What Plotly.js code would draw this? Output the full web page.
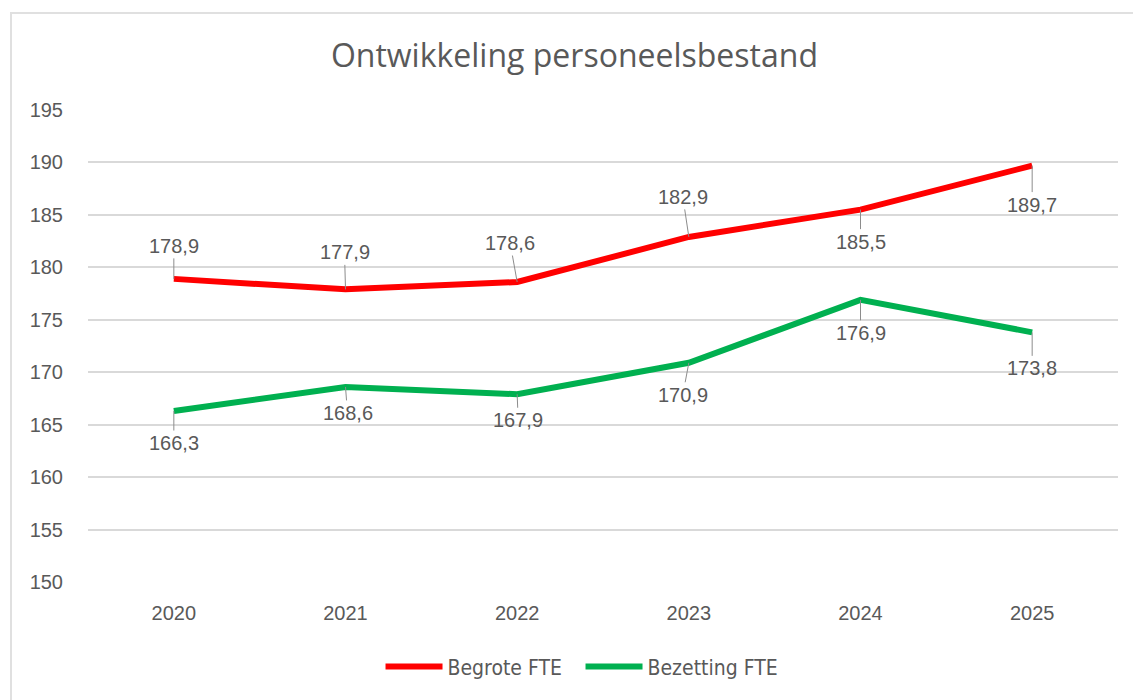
<!DOCTYPE html>
<html>
<head>
<meta charset="utf-8">
<script src="https://cdn.plot.ly/plotly-3.0.1.min.js"></script>
<style>
  html, body { margin: 0; padding: 0; background: #ffffff; }
  #wrap { position: relative; width: 1133px; height: 700px; overflow: hidden; }
  #frame { position: absolute; left: 10px; top: 12px; width: 1140px; height: 700px;
           border-left: 2px solid #e0e0e0; border-top: 2px solid #e0e0e0; box-sizing: border-box; pointer-events: none; }
  #chart { position: absolute; left: 0; top: 0; width: 1133px; height: 700px; }
</style>
</head>
<body>
<div id="wrap">
  <div id="chart"></div>
  <div id="frame"></div>
</div>
<script>
// ---- data ----
const years = ['2020', '2021', '2022', '2023', '2024', '2025'];
const begroteFTE = [178.9, 177.9, 178.6, 182.9, 185.5, 189.7];
const bezettingFTE = [166.3, 168.6, 167.9, 170.9, 176.9, 173.8];
const begroteLabels = ['178,9', '177,9', '178,6', '182,9', '185,5', '189,7'];
const bezettingLabels = ['166,3', '168,6', '167,9', '170,9', '176,9', '173,8'];
const yTicks = [150, 155, 160, 165, 170, 175, 180, 185, 190, 195];

// ---- label placement (pixel offsets of the label from its point) ----
const begroteOffsets = [[0, -33], [-1, -37], [-7, -39], [-6, -40], [0, 32], [0, 39]];
const bezettingOffsets = [[0, 32], [2, 26], [1, 26], [-6, 32], [0, 33], [0, 36]];

const txtColor = '#595959';
function lblFont() { return { family: 'Liberation Sans, Arial, sans-serif', size: 20, color: txtColor }; }

function makeAnnotations(vals, labels, offs) {
  const out = [];
  for (let i = 0; i < vals.length; i++) {
    out.push({
      x: i, y: vals[i], xref: 'x', yref: 'y',
      text: labels[i], font: lblFont(),
      showarrow: true, arrowhead: 0, arrowwidth: 1, arrowcolor: '#8c8c8c',
      ax: offs[i][0], ay: offs[i][1]
    });
  }
  return out;
}

const traces = [
  { x: years, y: begroteFTE, name: 'Begrote FTE', type: 'scatter', mode: 'lines',
    line: { color: '#FF0000', width: 6 } },
  { x: years, y: bezettingFTE, name: 'Bezetting FTE', type: 'scatter', mode: 'lines',
    line: { color: '#00B050', width: 6 } }
];

const annos = makeAnnotations(begroteFTE, begroteLabels, begroteOffsets)
    .concat(makeAnnotations(bezettingFTE, bezettingLabels, bezettingOffsets));

const layout = {
  width: 1133, height: 700,
  paper_bgcolor: 'rgba(0,0,0,0)', plot_bgcolor: 'rgba(0,0,0,0)',
  margin: { l: 88, r: 15, t: 110, b: 118 },
  title: { text: 'Ontwikkeling personeelsbestand',
           font: { family: 'Open Sans, sans-serif', size: 32, color: txtColor },
           x: 0.507, xanchor: 'center', y: 0.921, yanchor: 'middle' },
  xaxis: { type: 'category', range: [-0.5, 5.5], showgrid: false, zeroline: false, showline: false,
           ticks: '', tickfont: lblFont(), ticklabelstandoff: 17, fixedrange: true },
  yaxis: { range: [150, 195], tickvals: yTicks, showgrid: true, gridcolor: '#d9d9d9', gridwidth: 1.5,
           zeroline: false, showline: false, ticks: '', tickfont: lblFont(), ticklabelstandoff: 24,
           fixedrange: true },
  showlegend: true,
  legend: { orientation: 'h', x: 0.284, xanchor: 'left', y: -0.18, yanchor: 'middle',
            font: { family: 'Liberation Sans Narrow, Arial Narrow, DejaVu Sans Condensed, sans-serif', size: 21, color: txtColor },
            itemwidth: 57, entrywidth: 128, entrywidthmode: 'pixels', bgcolor: 'rgba(0,0,0,0)' },
  annotations: annos
};

Plotly.newPlot('chart', traces, layout, { displayModeBar: false });
</script>
</body>
</html>
